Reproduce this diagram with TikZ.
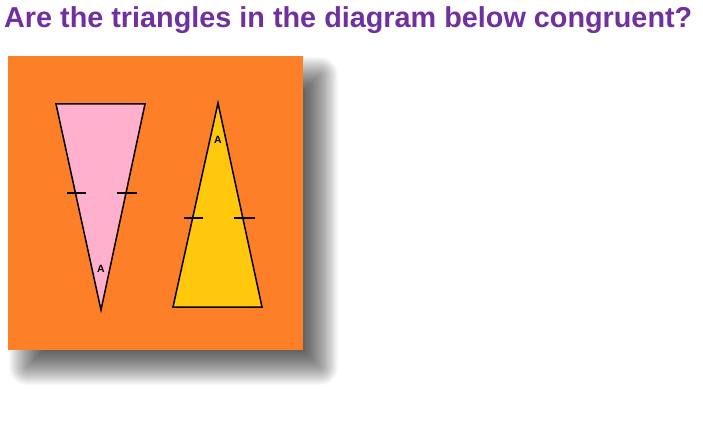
\documentclass[tikz,border=0pt]{standalone}
\usepackage{fontspec}
\setmainfont{Liberation Sans}
\definecolor{bgorange}{HTML}{FD7F28}
\definecolor{tripink}{HTML}{FFB0CD}
\definecolor{triyellow}{HTML}{FFC80C}
\definecolor{titlepurple}{HTML}{7030A0}
\tikzset{
  tri/.style={draw=black, line width=1.5pt, line join=miter},
  tick/.style={draw=black, line width=1.3pt},
  anglelbl/.style={font=\fontsize{10.5}{10.5}\selectfont\bfseries, inner sep=0pt},
  title/.style={font=\fontsize{28.8}{28.8}\selectfont\bfseries, text=titlepurple, inner sep=0pt, anchor=base west},
  shadowlayer/.style={fill=black, fill opacity=0.022}
}
\begin{document}
\begin{tikzpicture}[x=1pt,y=-1pt]
\useasboundingbox (0,0) rectangle (703,427);
\fill[white] (0,0) rectangle (703,427);
\node[title] (title) at (4,28) {Are the triangles in the diagram below congruent?};
% soft shadow
\foreach \i in {0,...,35}{
  \pgfmathsetmacro{\e}{17-\i}
  \pgfmathsetmacro{\r}{max(\e,0)+1}
  \fill[shadowlayer, rounded corners=\r pt] (26-\e,74-\e) rectangle (321+\e,368+\e);
}
\node[fill=bgorange, minimum width=295pt, minimum height=294pt, inner sep=0pt, anchor=north west] (panel) at (8,56) {};
% pink triangle
\coordinate (p1) at (56,104);
\coordinate (p2) at (145,104);
\coordinate (p3) at (101,310);
\filldraw[tri, fill=tripink] (p1) -- (p2) -- (p3) -- cycle;
\coordinate (pt1a) at (67,193); \coordinate (pt1b) at (86,193);
\coordinate (pt2a) at (117,193); \coordinate (pt2b) at (137,193);
\draw[tick] (pt1a) -- (pt1b);
\draw[tick] (pt2a) -- (pt2b);
\node[anglelbl] (pa) at (101,269) {A};
% yellow triangle
\coordinate (y1) at (218,103);
\coordinate (y2) at (173,307);
\coordinate (y3) at (262,307);
\filldraw[tri, fill=triyellow] (y1) -- (y2) -- (y3) -- cycle;
\coordinate (yt1a) at (184,218); \coordinate (yt1b) at (203,218);
\coordinate (yt2a) at (234,218); \coordinate (yt2b) at (255,218);
\draw[tick] (yt1a) -- (yt1b);
\draw[tick] (yt2a) -- (yt2b);
\node[anglelbl] (ya) at (218,140) {A};
\end{tikzpicture}
\end{document}
